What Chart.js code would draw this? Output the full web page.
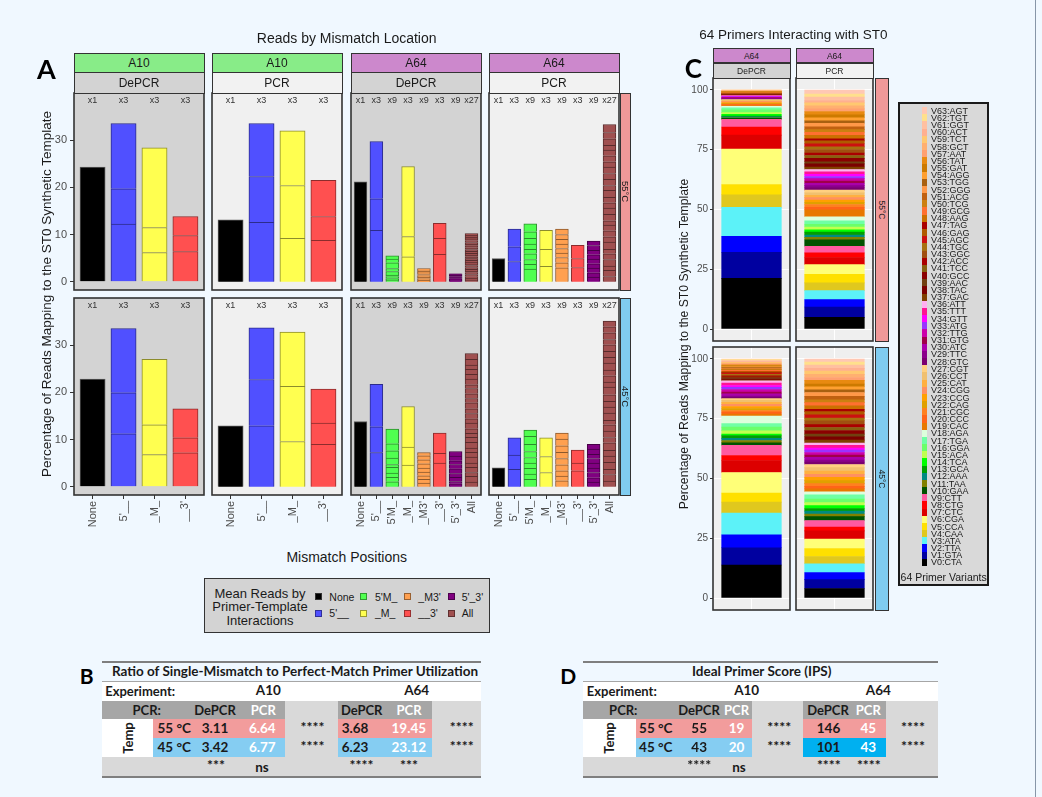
<!DOCTYPE html>
<html lang="en">
<head>
<meta charset="utf-8">
<title>Reads by Mismatch Location</title>
<script src="https://cdn.jsdelivr.net/npm/chart.js@4.4.1/dist/chart.umd.min.js"></script>
<style>
  html, body { margin:0; padding:0; }
  body { width:1042px; height:797px; position:relative; overflow:hidden; background:#f0f8ff;
         font-family:"Liberation Sans", Arial, sans-serif; color:#1a1a1a; }
  canvas { position:absolute; }
  .box { position:absolute; box-sizing:border-box; }
  .t { position:absolute; white-space:nowrap; line-height:1; }
  .strip { position:absolute; box-sizing:border-box; border:1.5px solid #333; display:flex;
           align-items:center; justify-content:center; white-space:nowrap; color:#1a1a1a; }
</style>
</head>
<body>
<script>
// ---------------- categories, tick labels ----------------
const catsA10 = ["None", "5'__", "_M_", "__3'"];
const multA10 = ["x1", "x3", "x3", "x3"];
const catsA64 = ["None", "5'__", "5'M_", "_M_", "_M3'", "__3'", "5'_3'", "All"];
const multA64 = ["x1", "x3", "x9", "x3", "x9", "x3", "x9", "x27"];
const yTicksA = [0, 10, 20, 30];
const yTicksC = [0, 25, 50, 75, 100];

// first primer index and primer count of each A64 category
const groupFirst = [0, 1, 10, 4, 19, 7, 28, 37];
const groupCount = [1, 3, 9, 3, 9, 3, 9, 27];

// ---------------- A10 reads (% per primer, grouped by category) ----------------
const a10DePCR55 = [[24.3], [12.2, 7.5, 13.8], [6.2, 5.3, 16.9], [6.4, 3.4, 4.0]];
const a10PCR55   = [[13.1], [12.6, 9.7, 11.2], [9.2, 11.2, 11.6], [8.8, 5.0, 7.7]];
const a10DePCR45 = [[22.8], [11.2, 8.7, 13.6], [6.8, 6.3, 13.9], [7.2, 3.15, 6.15]];
const a10PCR45   = [[12.9], [12.9, 9.8, 11.0], [9.6, 11.7, 11.45], [9.0, 4.5, 7.2]];

// ---------------- A64 reads (% per primer V0..V63) ----------------
const readsPCR55 = [4.9,
  4.3, 3.1, 3.75,
  3.25, 3.6, 4.05,
  3.0, 1.9, 2.8,
  2.7, 1.0, 1.0, 1.2, 1.0, 1.1, 1.2, 1.4, 1.7,
  2.95, 1.05, 1.15, 0.95, 0.95, 0.95, 1.0, 1.0, 1.15,
  1.0, 0.9, 1.0, 0.9, 1.0, 0.9, 0.95, 1.0, 0.95,
  1.1, 1.3, 0.9, 1.4, 1.2, 1.0, 1.5, 1.1, 1.3, 1.2, 0.9, 1.4, 1.3, 1.1, 1.2, 1.5, 1.0, 1.3, 1.2, 1.4, 1.1, 1.3, 1.2, 1.0, 1.4, 1.3, 1.7];
const readsPCR45 = [4.0,
  3.7, 3.0, 3.65,
  3.0, 3.4, 3.95,
  3.4, 1.6, 2.75,
  1.6, 1.1, 1.2, 1.1, 1.2, 1.25, 1.55, 1.7, 1.3,
  1.27, 0.98, 1.15, 1.25, 1.35, 1.3, 1.4, 1.4, 1.3,
  1.0, 0.9, 1.1, 0.95, 1.05, 1.0, 0.9, 1.1, 1.0,
  1.2, 1.4, 1.1, 1.5, 1.3, 1.2, 1.6, 1.1, 1.4, 1.3, 1.0, 1.5, 1.3, 1.2, 1.4, 1.6, 1.1, 1.3, 1.2, 1.5, 1.2, 1.3, 1.4, 1.1, 1.4, 1.3, 1.2];
// DePCR: primers V0..V36
const singleDePCR55 = [21.2,
  10.9, 6.7, 12.1,
  5.3, 4.25, 14.85,
  5.8, 3.4, 3.2,
  0.4, 0.3, 0.35, 0.35, 0.75, 0.65, 1.2, 0.8, 0.7,
  0.3, 0.35, 0.3, 0.3, 0.3, 0.35, 0.3, 0.3, 0.3,
  0.15, 0.2, 0.2, 0.15, 0.2, 0.2, 0.25, 0.2, 0.15];
const singleDePCR45 = [13.8,
  7.25, 5.45, 9.0,
  4.6, 3.8, 8.6,
  5.0, 2.1, 4.3,
  1.05, 0.95, 0.9, 1.2, 0.6, 1.4, 1.5, 1.5, 3.15,
  0.77, 0.83, 0.7, 0.8, 0.84, 0.92, 0.84, 0.85, 0.7,
  0.6, 0.5, 0.9, 0.8, 1.0, 0.9, 0.8, 1.0, 0.95];
// DePCR: primers V37..V63 (mean reads, panel A)
const allMeanDePCR55 = [0.35, 0.42, 0.3, 0.45, 0.38, 0.33, 0.4, 0.36, 0.44, 0.31, 0.39, 0.42, 0.35, 0.37,
  0.4, 0.34, 0.43, 0.36, 0.38, 0.41, 0.33, 0.39, 0.37, 0.42, 0.36, 0.4, 0.35];
const allMeanDePCR45 = [1.0, 1.2, 0.8, 1.1, 0.9, 1.3, 1.0, 0.9, 1.2, 1.1, 0.8, 1.0, 1.2, 0.9,
  1.1, 1.0, 1.3, 0.9, 1.0, 1.1, 0.8, 1.2, 1.0, 1.1, 0.9, 1.2, 1.2];
// DePCR: primers V37..V63 (share of reads, panel C)
const allShareDePCR55 = [0.05, 0.1, 0.06, 0.09, 0.08, 0.07, 0.1, 0.09, 0.06, 0.08, 0.11, 0.07, 0.1, 0.09,
  0.08, 0.12, 0.1, 0.07, 0.09, 0.08, 0.1, 0.11, 0.09, 0.08, 0.1, 0.07, 0.09];
const allShareDePCR45 = [0.3, 0.4, 0.25, 0.35, 0.3, 0.45, 0.3, 0.35, 0.4, 0.3, 0.25, 0.35, 0.4, 0.3,
  0.35, 0.3, 0.4, 0.35, 0.3, 0.35, 0.4, 0.3, 0.35, 0.3, 0.4, 0.35, 0.3];

// ---------------- primer variants ----------------
const primerNames = ["V0:CTA","V1:GTA","V2:TTA","V3:ATA","V4:CAA","V5:CCA","V6:CGA","V7:CTC","V8:CTG","V9:CTT",
  "V10:GAA","V11:TAA","V12:AAA","V13:GCA","V14:TCA","V15:ACA","V16:GGA","V17:TGA","V18:AGA",
  "V19:CAC","V20:CCC","V21:CGC","V22:CAG","V23:CCG","V24:CGG","V25:CAT","V26:CCT","V27:CGT",
  "V28:GTC","V29:TTC","V30:ATC","V31:GTG","V32:TTG","V33:ATG","V34:GTT","V35:TTT","V36:ATT",
  "V37:GAC","V38:TAC","V39:AAC","V40:GCC","V41:TCC","V42:ACC","V43:GGC","V44:TGC","V45:AGC",
  "V46:GAG","V47:TAG","V48:AAG","V49:GCG","V50:TCG","V51:ACG","V52:GGG","V53:TGG","V54:AGG",
  "V55:GAT","V56:TAT","V57:AAT","V58:GCT","V59:TCT","V60:ACT","V61:GGT","V62:TGT","V63:AGT"];
const primerColors = ["#000000","#0000a0","#0000ff","#5cf2f8","#e0c81e","#ffe000","#ffff78","#dd0000","#ff0000","#ff5aa0",
  "#005200","#808000","#008b80","#00a000","#00ff00","#c0ff50","#6aff6a","#6fffa5","#ddffdd",
  "#e87800","#ff6418","#ff8020","#e0a000","#ffa000","#ff9060","#ffb040","#f0c070","#ffd080",
  "#7a0070","#8b008b","#aa00aa","#a0004a","#cc00aa","#9933ff","#ff00ff","#ff1493","#ffb0f0",
  "#804000","#7b0000","#704010","#8b0000","#886010","#aa0000","#a05010","#a87010","#cc1010",
  "#b05a00","#aa0000","#cc7000","#ff7030","#cc8010","#c06010","#ff9848","#a86010","#ffa030",
  "#cc7a00","#e88a10","#ffa070","#ffb070","#ffc870","#ffb090","#ffc0a0","#ffe08c","#ffc8b4"];
const groupColors = ["#000000", "#5050ff", "#50ff50", "#ffff50", "#ffa050", "#ff5050", "#800080", "#a05050"];

// ---------------- tables ----------------
const tempRows = ["55 °C", "45 °C"];
const ratioA10DePCR = ["3.11", "3.42"], ratioA10PCR = ["6.64", "6.77"], ratioA10Sig = ["****", "****"];
const ratioA64DePCR = ["3.68", "6.23"], ratioA64PCR = ["19.45", "23.12"], ratioA64Sig = ["****", "****"];
const ratioColSig = ["***", "ns", "****", "***"];
const ipsA10DePCR = ["55", "43"], ipsA10PCR = ["19", "20"], ipsA10Sig = ["****", "****"];
const ipsA64DePCR = ["146", "101"], ipsA64PCR = ["45", "43"], ipsA64Sig = ["****", "****"];
const ipsColSig = ["****", "ns", "****", "****"];

// ---------------- helpers ----------------
function el(tag, cls, styles, txt) {
  const e = document.createElement(tag);
  if (cls) e.className = cls;
  Object.assign(e.style, styles);
  if (txt != null) e.textContent = txt;
  document.body.appendChild(e);
  return e;
}
function rect(x1, y1, x2, y2, fill, extra) {
  return el('div', 'box', Object.assign({ left: x1 + 'px', top: y1 + 'px', width: (x2 - x1) + 'px',
    height: (y2 - y1) + 'px', background: fill }, extra || {}));
}
function text(x, y, s, o) {
  o = o || {};
  const ax = o.align === 'left' ? '0' : (o.align === 'right' ? '-100%' : '-50%');
  const rot = o.rotate ? ` rotate(${o.rotate}deg)` : '';
  return el('div', 't', { left: x + 'px', top: y + 'px', fontSize: (o.size || 12) + 'px',
    fontWeight: o.weight || 'normal', color: o.color || '#1a1a1a', fontFamily: o.family || '',
    transform: `translate(${ax},-50%)${rot}` }, s);
}
function strip(x, y, w, h, fill, label, size, vertical) {
  const s = el('div', 'strip', { left: x + 'px', top: y + 'px', width: w + 'px', height: h + 'px',
    background: fill, fontSize: size + 'px' });
  const span = document.createElement('span');
  span.textContent = label;
  if (vertical) span.style.transform = 'rotate(90deg)';
  s.appendChild(span);
  return s;
}
function shade(hex, f) {
  const n = parseInt(hex.slice(1), 16);
  return `rgb(${Math.round(((n >> 16) & 255) * f)},${Math.round(((n >> 8) & 255) * f)},${Math.round((n & 255) * f)})`;
}
function groupsOf(perPrimer) {
  return groupFirst.map((f, g) => perPrimer.slice(f, f + groupCount[g]));
}
// fixes an axis box to a given size and keeps label overhang from shrinking the plot area
function fixedBox(w, h) {
  return s => {
    if (w != null) s.width = w;
    if (h != null) s.height = h;
    s.paddingLeft = s.paddingRight = s.paddingTop = s.paddingBottom = 0;
  };
}

// ---------------- Chart.js plugins ----------------
Chart.defaults.font.family = "'Liberation Sans', Arial, sans-serif";
Chart.defaults.color = '#4d4d4d';

const panelPlugin = {
  id: 'panel',
  beforeDraw(chart, args, o) {
    const { ctx, chartArea: a } = chart;
    ctx.save();
    ctx.fillStyle = o.bg || '#fff';
    ctx.fillRect(a.left, a.top, a.right - a.left, a.bottom - a.top);
    ctx.restore();
  },
  afterDraw(chart, args, o) {
    const { ctx, chartArea: a } = chart;
    ctx.save();
    ctx.strokeStyle = o.border || '#333';
    ctx.lineWidth = o.lineWidth || 1.5;
    ctx.strokeRect(a.left, a.top, a.right - a.left, a.bottom - a.top);
    ctx.restore();
  }
};
const multPlugin = {
  id: 'mult',
  afterDatasetsDraw(chart, args, o) {
    if (!o.labels) return;
    const { ctx, scales: { x, y } } = chart;
    ctx.save();
    ctx.font = "9px 'Liberation Sans', Arial, sans-serif";
    ctx.fillStyle = '#333';
    ctx.textAlign = 'center';
    ctx.textBaseline = 'middle';
    o.labels.forEach((t, i) => ctx.fillText(t, x.getPixelForValue(i + 1), y.getPixelForValue(o.y)));
    ctx.restore();
  }
};
Chart.register(panelPlugin, multPlugin);

const PAD = 3;
function mountCanvas(x, y, w, h, yAxisW, xAxisH) {
  const c = document.createElement('canvas');
  const W = w + 2 * PAD + yAxisW, H = h + 2 * PAD + xAxisH;
  c.width = W; c.height = H;
  Object.assign(c.style, { left: (x - PAD - yAxisW) + 'px', top: (y - PAD) + 'px', width: W + 'px', height: H + 'px' });
  document.body.appendChild(c);
  return c;
}

// ---------------- panel A: facets ----------------
const A_COLS = [74, 212, 351, 489], A_W = 130;
const A_ROWS = [93, 298], A_H = 197;
const A_YAXIS_W = 32, A_XAXIS_H = 44;
const bgDePCR = '#d3d3d3', bgPCR = '#f0f0f0';

function facetA(cats, mult, segs, bg, col, row) {
  const left = col === 0, bottom = row === 1;
  const canvas = mountCanvas(A_COLS[col], A_ROWS[row], A_W, A_H, left ? A_YAXIS_W : 0, bottom ? A_XAXIS_H : 0);
  const fills = cats.map(c => groupColors[catsA64.indexOf(c)]);
  const edges = fills.map(f => f === '#000000' ? '#5a5a5a' : shade(f, 0.55));
  const nSeg = Math.max(...segs.map(s => s.length));
  const datasets = [];
  for (let k = 0; k < nSeg; k++) {
    datasets.push({
      data: cats.map((c, i) => ({ x: i + 1, y: k < segs[i].length ? segs[i][k] : null })),
      backgroundColor: fills, borderColor: edges, borderWidth: 1, borderSkipped: 'start',
      inflateAmount: 0.25, barPercentage: 0.82, categoryPercentage: 1, stack: 's'
    });
  }
  new Chart(canvas, {
    type: 'bar',
    data: { datasets },
    options: {
      responsive: false, animation: false, devicePixelRatio: 1,
      layout: { padding: PAD, autoPadding: false },
      plugins: { legend: { display: false }, tooltip: { enabled: false },
        panel: { bg, border: '#333', lineWidth: 1.6 }, mult: { labels: mult, y: 38.3 } },
      scales: {
        x: {
          type: 'linear', min: 0.4, max: cats.length + 0.6, offset: false, stacked: true, display: bottom,
          afterBuildTicks: s => { s.ticks = cats.map((c, i) => ({ value: i + 1 })); },
          afterFit: fixedBox(null, bottom ? A_XAXIS_H : 0),
          grid: { display: true, offset: false, drawOnChartArea: false, drawTicks: true, tickLength: 4, tickColor: '#333' },
          border: { display: false },
          ticks: { autoSkip: false, minRotation: 90, maxRotation: 90, padding: 2, color: '#4d4d4d',
            font: { size: 11 }, callback: v => cats[v - 1] }
        },
        y: {
          type: 'linear', min: -1.76, max: 39.98, stacked: true, display: left,
          afterBuildTicks: s => { s.ticks = yTicksA.map(v => ({ value: v })); },
          afterFit: fixedBox(left ? A_YAXIS_W : 0, null),
          grid: { display: true, drawOnChartArea: false, drawTicks: true, tickLength: 4, tickColor: '#333' },
          border: { display: false },
          ticks: { padding: 3, color: '#4d4d4d', font: { size: 11 } }
        }
      }
    }
  });
}

facetA(catsA10, multA10, a10DePCR55, bgDePCR, 0, 0);
facetA(catsA10, multA10, a10PCR55, bgPCR, 1, 0);
facetA(catsA64, multA64, groupsOf(singleDePCR55.concat(allMeanDePCR55)), bgDePCR, 2, 0);
facetA(catsA64, multA64, groupsOf(readsPCR55), bgPCR, 3, 0);
facetA(catsA10, multA10, a10DePCR45, bgDePCR, 0, 1);
facetA(catsA10, multA10, a10PCR45, bgPCR, 1, 1);
facetA(catsA64, multA64, groupsOf(singleDePCR45.concat(allMeanDePCR45)), bgDePCR, 2, 1);
facetA(catsA64, multA64, groupsOf(readsPCR45), bgPCR, 3, 1);

// strips of panel A
const stripExp = ['A10', 'A10', 'A64', 'A64'];
const stripExpFill = ['#88ec88', '#88ec88', '#cc88cc', '#cc88cc'];
const stripPcr = ['DePCR', 'PCR', 'DePCR', 'PCR'];
const stripPcrFill = ['#d3d3d3', '#f2f2f2', '#d3d3d3', '#f2f2f2'];
A_COLS.forEach((x, i) => {
  strip(x - 0.5, 52.5, A_W + 1, 20.5, stripExpFill[i], stripExp[i], 12);
  strip(x - 0.5, 72, A_W + 1, 21.5, stripPcrFill[i], stripPcr[i], 12);
});
strip(620, A_ROWS[0] - 0.5, 10.5, A_H + 1, '#f09999', '55°C', 9.5, true);
strip(620, A_ROWS[1] - 0.5, 10.5, A_H + 1, '#80ccf0', '45°C', 9.5, true);

// titles of panel A
text(346.7, 37.5, 'Reads by Mismatch Location', { size: 14 });
text(46.5, 294, 'Percentage of Reads Mapping to the ST0 Synthetic Template', { size: 13.5, rotate: -90 });
text(346.7, 556.7, 'Mismatch Positions', { size: 14 });
text(46.5, 67.5, 'A', { size: 27, weight: 700, family: "Lato, 'Open Sans', sans-serif", color: '#000' });

// legend of panel A
rect(203.5, 577.5, 490, 633, '#d3d3d3', { border: '1.2px solid #333' });
text(260, 592.7, 'Mean Reads by', { size: 13 });
text(260, 606.3, 'Primer-Template', { size: 13 });
text(260, 620, 'Interactions', { size: 13 });
const legKeyX = [318.3, 363.3, 407.3, 451], legLabX = [329.3, 375, 418.3, 461.7], legRowY = [596.7, 613.3];
catsA64.forEach((c, i) => {
  const col = Math.floor(i / 2), row = i % 2;
  const f = groupColors[i];
  rect(legKeyX[col] - 3.5, legRowY[row] - 3.5, legKeyX[col] + 3.5, legRowY[row] + 3.5, f,
    { border: '0.8px solid ' + (f === '#000000' ? '#333' : shade(f, 0.6)) });
  text(legLabX[col], legRowY[row], c, { size: 10.5, align: 'left' });
});

// ---------------- panel C: facets ----------------
const C_COLS = [713, 796], C_W = 77;
const C_ROWS = [78, 347], C_H = 263;
const C_YAXIS_W = 30;

function facetC(values, col, row) {
  const left = col === 0;
  const canvas = mountCanvas(C_COLS[col], C_ROWS[row], C_W, C_H, left ? C_YAXIS_W : 0, 0);
  const datasets = values.map((v, i) => ({ data: [{ x: 1, y: v }], backgroundColor: primerColors[i],
    borderWidth: 0, inflateAmount: 0.3, barPercentage: 0.775, categoryPercentage: 1, stack: 's' }));
  new Chart(canvas, {
    type: 'bar',
    data: { datasets },
    options: {
      responsive: false, animation: false, devicePixelRatio: 1,
      layout: { padding: PAD, autoPadding: false },
      plugins: { legend: { display: false }, tooltip: { enabled: false },
        panel: { bg: '#efefef', border: '#333', lineWidth: 1.6 } },
      scales: {
        x: {
          type: 'linear', min: 0.4, max: 1.6, offset: false, stacked: true, display: true,
          afterBuildTicks: s => { s.ticks = [{ value: 1 }]; },
          afterFit: fixedBox(null, 0),
          grid: { display: true, offset: false, color: '#ffffff', lineWidth: 1, drawTicks: false },
          border: { display: false },
          ticks: { display: false }
        },
        y: {
          type: 'linear', min: -5, max: 105, stacked: true, display: true,
          afterBuildTicks: s => { s.ticks = yTicksC.map(v => ({ value: v })); },
          afterFit: fixedBox(left ? C_YAXIS_W : 0, null),
          grid: { display: true, color: '#ffffff', lineWidth: 1, drawTicks: left, tickLength: 3, tickColor: '#333' },
          border: { display: false },
          ticks: { display: left, padding: 2, color: '#4d4d4d', font: { size: 10 } }
        }
      }
    }
  });
}
facetC(singleDePCR55.concat(allShareDePCR55), 0, 0);
facetC(readsPCR55, 1, 0);
facetC(singleDePCR45.concat(allShareDePCR45), 0, 1);
facetC(readsPCR45, 1, 1);

C_COLS.forEach((x, i) => {
  strip(x - 0.5, 48, C_W + 1, 15, '#cc88cc', 'A64', 8.5);
  strip(x - 0.5, 62.5, C_W + 1, 16, i === 0 ? '#d3d3d3' : '#f2f2f2', i === 0 ? 'DePCR' : 'PCR', 8.5);
});
strip(874.5, C_ROWS[0] - 0.5, 14, C_H + 1, '#f09999', '55°C', 8.5, true);
strip(874.5, C_ROWS[1] - 0.5, 14, C_H + 1, '#80ccf0', '45°C', 8.5, true);

text(793.3, 35, '64 Primers Interacting with ST0', { size: 13.5 });
text(683.5, 344, 'Percentage of Reads Mapping to the ST0 Synthetic Template', { size: 12.2, rotate: -90 });
text(693.3, 68, 'C', { size: 26, weight: 700, family: "Lato, 'Open Sans', sans-serif", color: '#000' });

// legend of panel C
rect(898.3, 102.3, 989, 586, '#d9d9d9', { border: '2px solid #1a1a1a' });
primerNames.forEach((nm, i) => {
  const y = 110.7 + (63 - i) * 7.17;
  rect(922.3, y - 3.6, 927, y + 3.6, primerColors[i]);
  text(931, y, nm, { size: 9, align: 'left' });
});
text(943.7, 576.7, '64 Primer Variants', { size: 10.5 });

// ---------------- tables B and D ----------------
const TF = "Lato, 'Open Sans', sans-serif";
const SALMON = '#f29c9c', SKY = '#85cdf2', DARK = '#a6a6a6', LIGHT = '#d9d9d9';
const RY = [661.7, 681, 700.5, 719, 738.3, 756.7, 776.7];   // row edges
const RC = [671.5, 691, 710, 728.8, 747.6, 766.7];          // row centres

function table(o) {
  const [x0, xT, xS1, xA64, xS2, x1] = o.cols;
  rect(x0, RY[1], x1, RY[2], '#ffffff');
  rect(x0, RY[2], xS1, RY[3], DARK); rect(xS1, RY[2], xA64, RY[3], LIGHT);
  rect(xA64, RY[2], xS2, RY[3], DARK); rect(xS2, RY[2], x1, RY[3], LIGHT);
  rect(x0, RY[3], xT, RY[5], '#ffffff');
  rect(xT, RY[3], xS1, RY[4], SALMON); rect(xS1, RY[3], xA64, RY[5], LIGHT);
  rect(xA64, RY[3], xS2, RY[4], SALMON); rect(xS2, RY[3], x1, RY[5], LIGHT);
  rect(xT, RY[4], xS1, RY[5], SKY); rect(xA64, RY[4], xS2, RY[5], o.a64Blue || SKY);
  rect(x0, RY[5], x1, RY[6], LIGHT);
  rect(x0, RY[0] - 1, x1, RY[0] + 1, '#7f7f7f');
  rect(x0, RY[1] - 0.5, x1, RY[1] + 0.5, '#a6a6a6');
  rect(x0, RY[6] - 1, x1, RY[6] + 1, '#7f7f7f');
  const b = { weight: 700, family: TF };
  text(o.titleX, RC[0], o.title, Object.assign({ size: 13.5 }, b));
  text(x0 + 3.5, RC[1], 'Experiment:', Object.assign({ size: 13, align: 'left' }, b));
  text(o.expX[0], RC[1], 'A10', Object.assign({ size: 13.5 }, b));
  text(o.expX[1], RC[1], 'A64', Object.assign({ size: 13.5 }, b));
  text(o.pcrLab, RC[2], 'PCR:', Object.assign({ size: 13 }, b));
  o.hdrX.forEach((x, i) => text(x, RC[2], i % 2 ? 'PCR' : 'DePCR',
    Object.assign({ size: 13, color: i % 2 ? '#ffffff' : '#1a1a1a' }, b)));
  text(o.tempX, (RY[3] + RY[5]) / 2, 'Temp', Object.assign({ size: 13, rotate: -90 }, b));
  tempRows.forEach((t, r) => {
    const y = RC[3 + r];
    text(o.valX[0], y, t, Object.assign({ size: 13.5 }, b));
    text(o.valX[1], y, o.a10d[r], Object.assign({ size: 13.5 }, b));
    text(o.valX[2], y, o.a10p[r], Object.assign({ size: 13.5, color: '#ffffff' }, b));
    text(o.valX[3], y - 2, o.a10s[r], Object.assign({ size: 14 }, b));
    text(o.valX[4], y, o.a64d[r], Object.assign({ size: 13.5 }, b));
    text(o.valX[5], y, o.a64p[r], Object.assign({ size: 13.5, color: '#ffffff' }, b));
    text(o.valX[6], y - 2, o.a64s[r], Object.assign({ size: 14 }, b));
  });
  o.sigX.forEach((x, i) => {
    const s = o.colSig[i];
    text(x, s === 'ns' ? RC[5] + 1 : RC[5] - 2, s, Object.assign({ size: s === 'ns' ? 13.5 : 14 }, b));
  });
  text(o.letterX, 674.5, o.letter, { size: 21, weight: 700, family: TF, color: '#000' });
}

table({
  letter: 'B', letterX: 86.7,
  cols: [101.7, 153.3, 285, 338, 431.7, 480.7],
  title: 'Ratio of Single-Mismatch to Perfect-Match Primer Utilization', titleX: 295,
  expX: [268.3, 416.7], pcrLab: 146.7, hdrX: [215, 263.3, 361.7, 409],
  tempX: 128.3, valX: [174.2, 215, 262.3, 312.5, 355, 408.8, 461.7],
  a10d: ratioA10DePCR, a10p: ratioA10PCR, a10s: ratioA10Sig,
  a64d: ratioA64DePCR, a64p: ratioA64PCR, a64s: ratioA64Sig,
  sigX: [216, 262, 361.5, 409], colSig: ratioColSig
});
table({
  letter: 'D', letterX: 568.3,
  cols: [583.3, 635.7, 751.7, 803.3, 886, 938.3],
  title: 'Ideal Primer Score (IPS)', titleX: 761.7,
  expX: [746.7, 878.3], pcrLab: 623.3, hdrX: [699, 736.5, 828, 868.3],
  tempX: 608.5, valX: [655.8, 699.2, 736.5, 779.2, 828.5, 868.3, 913],
  a10d: ipsA10DePCR, a10p: ipsA10PCR, a10s: ipsA10Sig,
  a64d: ipsA64DePCR, a64p: ipsA64PCR, a64s: ipsA64Sig,
  sigX: [699.2, 739, 828.8, 868.8], colSig: ipsColSig, a64Blue: '#00b0f0'
});

// right edge rule of the figure
rect(1035, 0, 1036, 797, '#8796a8');
</script>
</body>
</html>
